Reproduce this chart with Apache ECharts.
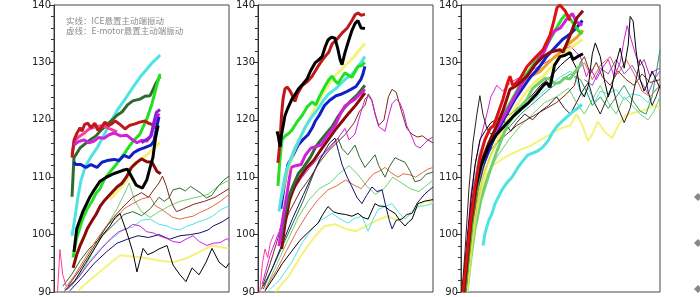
<!DOCTYPE html>
<html><head><meta charset="utf-8">
<script src="https://cdn.jsdelivr.net/npm/echarts@6/dist/echarts.min.js"></script>
<style>html,body{margin:0;padding:0;background:#fff}#c{width:700px;height:297px}</style>
</head><body><div id="c"></div>
<script>
// ---------- tick labels / legend ----------
var yTicks = [90, 100, 110, 120, 130, 140];
var legendLines = ['实线：ICE悬置主动端振动', '虚线：E-motor悬置主动端振动'];

// ---------- panel 1 : thick (ICE) ----------
var p1Cyan = [[10.3,99.8],[12,103],[13.7,106.6],[15.5,109.5],[17.7,111.7],[21,113.5],[24.6,115.1],[28,117],[32,119.4],[36,121.6],[40.6,123.6],[45,125.6],[49.1,127.4],[53,128.8],[56,129.9],[58.5,130.6],[60.6,131.3]];
var p1DkGreen = [[10.3,106.6],[11.4,113.4],[14.9,115.1],[20.6,116.5],[24,117.2],[26.3,118],[29,118.8],[33,119.9],[36,120.8],[39,121.4],[42,122.6],[45,123.3],[49.1,123.6],[52,124.1],[54.9,124.2],[57,125.5],[58,126.2],[60.6,127.6]];
var p1Green = [[10.9,96],[13,99.5],[16.6,102.9],[19,104.5],[21.7,105.8],[24,107.2],[26.3,108],[29,109.8],[32,110.9],[35,112],[37.7,113.1],[40,114],[41.7,114.8],[45,116.2],[49.1,117.5],[51,118.8],[53.1,120.2],[56,122.8],[58.9,126.2],[60.6,128]];
var p1Red = [[10.3,113.4],[11.5,116.5],[13,117.6],[14.9,118.6],[16,118],[17.5,119.2],[19.4,119.4],[21,118.6],[23.4,119.4],[25,118.2],[27,118.6],[29.1,119.6],[31,119],[33,119.3],[35,119.8],[37.7,119.2],[40.6,118.4],[43,119],[46.3,119.3],[49,119.6],[52,119.8],[54,119.4],[56,119.2],[58.3,118.5]];
var p1Magenta = [[11.4,115.6],[14,116.2],[17.1,116.5],[20,116],[22.9,116.3],[25.5,116.9],[28.6,116.8],[31.5,117.4],[34.3,117.7],[38,117.2],[41.7,117.3],[44.5,116.6],[47.4,116],[50,116.4],[53.1,116.3],[55,117],[57.1,119],[58.5,120],[60,121.1]];
var p1Purple = [[50,116],[53,116.6],[55.5,117.2],[57,119.5],[58.5,121.3],[60.6,121.8]];
var p1Pink = [[10.3,114],[11.5,116.2],[14,117],[17,117.6],[20,118.4],[24,118.8],[28,119],[32,118.4],[36,117.9]];
var p1Blue = [[11.4,112.6],[12.5,112.2],[15.4,112.2],[18.3,111.7],[21.1,112.2],[24.6,111.7],[27.4,112.6],[30.3,112.9],[34.3,113.1],[37.1,112.9],[40,113.8],[42.9,113.4],[45.7,114.3],[48.6,114.8],[51.4,115.1],[55.4,115.6],[57.1,116.3],[58.9,119],[60,120.5]];
var p1Maroon = [[10.9,94.2],[13,96.5],[14.9,98.1],[17,99.5],[19,101],[22.3,102.7],[24,103.5],[26.3,104.9],[29,106],[32,107],[36,108.3],[39,109],[41.7,110.2],[44,111.6],[47,112.5],[50,113.2],[53,112.7],[56,112.6],[58.9,111],[61,110.6]];
var p1Black = [[11.4,97],[13,101],[16.6,104.1],[20.6,106.6],[23,107.8],[26.3,109.3],[30,110],[34,110.6],[39.4,111.2],[42,111.4],[44.5,110],[47,108.6],[50.5,108.1],[53,109.5],[55,111.8],[56.5,113.4],[58,116.8],[59.5,119]];
var p1Yellow = [[32,106.1],[36,107.5],[41.7,109.5],[45.1,112.2],[49,113],[53.1,113.9],[58.9,115.6],[60.6,116]];

// ---------- panel 1 : thin (E-motor) ----------
var p1tDkGreen = [[5,91],[10,93],[15,95.5],[20,97.5],[25,99],[30,100.5],[35,102],[40,103.5],[45,104],[50,103.3],[55,104.5],[60,106.5],[63,105.8],[65.7,106.4],[68,107.8],[72,108.1],[75,107.6],[78,108.4],[81,107.8],[84,107.2],[87,106.4],[90,106.8],[94,108.5],[97,109.5],[100,110.2]];
var p1tSalmon = [[6,90.5],[12,93],[18,96],[24,99],[30,101.5],[36,103],[40,104.5],[45,105.4],[50,106.2],[54.9,106.6],[58,105],[61,104.5],[64.6,103.7],[68,103],[72,102.7],[76,103],[79.4,103.2],[83,103.8],[87.4,104.4],[91,105],[95,105.8],[100,107]];
var p1tCyan = [[8,90.5],[15,93],[22,96],[28,98],[34,99.5],[40,101],[45,101.3],[50,102.5],[54.9,102.7],[60,101.8],[64.6,101.5],[68,101],[72,100.8],[76,101.5],[79.4,101.8],[83,102.3],[87.4,102.7],[91,103.3],[95,104.3],[100,105]];
var p1tNavy = [[9,90.2],[16,92.5],[23,95],[30,97],[36,98.5],[42,99.2],[48,99.8],[54,99.5],[60,100],[66,99.2],[72,99.8],[78,100],[83.4,100.3],[88,100.8],[91,101.5],[96,102.2],[100,103]];
var p1tMagenta = [[7,90.3],[14,92.5],[20,95],[27,97.5],[33,99.5],[37,100.5],[41.7,101],[45,101.8],[49.1,101.5],[53,100.5],[56.6,100.3],[60,99.8],[64.6,99.3],[68,98.8],[72,98.6],[76,99.3],[79.4,99.8],[83,98.8],[87.4,98.1],[91,98.5],[94.9,98.6],[98.9,99.3],[100,99]];
var p1tBlack = [[6,90.2],[12,92],[18,95],[24,98],[28,100],[32,101.5],[35,103],[37.7,103.7],[41.7,100.3],[45.1,96.9],[47.4,93.5],[50.9,97.6],[53.5,96.5],[56.6,96.9],[60,97.5],[64.6,98.1],[68,94.7],[72,93],[75.4,91.8],[78.9,94.2],[82.9,93],[86.9,95.2],[90.3,97.6],[94.3,95.2],[98.3,94.2],[100,95]];
var p1tYellow = [[14,90.3],[22,92.5],[30,94.5],[37.7,96.4],[45,96.2],[53,95.9],[60,95.5],[68,95.2],[75,95.8],[79.4,96.4],[85,97.3],[90.3,98.1],[95,97.8],[100,97.6]];
var p1tBrown = [[8,91],[15,94],[22,97.5],[28,100.5],[34,103],[40,105],[45,106.5],[50,107.3],[54,106.5],[57,107.8],[60,109],[62,110.2],[64,108.6],[66,106.5],[68,105],[70,104],[74,104.5],[80,105.3],[86,105.8],[92,106.5],[100,108]];
var p1tLtGreen = [[10,91],[17,94],[24,98],[30,101.5],[36,104.5],[40,107],[43,109],[46,106],[50,104],[55,103],[60,104],[66,105],[72,105.8],[80,106.4],[88,107],[94,108.5],[100,109.5]];
var p1tPink = [[2,90],[3.4,97.4],[5,93],[7,91]];

// ---------- panel 2 : thick ----------
var p2Red = [[11.4,112.5],[12.5,116],[13.5,121],[14.3,123.6],[15.4,125.4],[16.6,125.7],[18,125.2],[19.4,124.4],[21.1,123.2],[22.5,124.5],[25.1,125.9],[28,126.6],[30.9,127.6],[34.3,129.3],[36.5,130.3],[38.3,131],[40.5,131.8],[42.3,133.2],[45,134],[48,135.1],[51,136],[53.7,137.3],[55.5,138.3],[57.1,138.6],[59,138.2],[61.1,138.4]];
var p2Black = [[10.9,118],[11.5,117.3],[12.6,115.3],[13.5,117.5],[15.4,120.7],[17,122],[19.4,123.6],[21,124.3],[22.9,125.3],[25,126],[28,127.1],[30,128.5],[32.6,129.9],[34.5,130.4],[36.6,131],[38.5,132.8],[40,133.9],[42,134.4],[44,134.2],[45.5,132.5],[46.9,130.5],[48,129.6],[49.7,131.7],[51.5,133.5],[53.7,135.6],[55.5,136.8],[57.1,137.3],[58.9,136],[61.1,135.9]];
var p2Yellow = [[13,106],[16,110],[20,114],[25,117.5],[30,120.5],[35,123.5],[40,126],[45,128],[50,129.5],[55,131],[58,132.2],[61.1,133.3]];
var p2Green = [[11.4,108.5],[12.5,113],[13.7,116.5],[15.5,117.2],[17.5,117.6],[19.4,118.2],[22,119.5],[25.1,120.7],[28,122.2],[30.9,123.1],[33,122.6],[35,124],[38.3,125.9],[40.5,127],[42.3,127.6],[44,126.8],[45.7,126.3],[47.5,127.2],[49.7,128.2],[51.5,127.8],[53.7,127.4],[55.5,128.4],[57.1,129.3],[59,129.4],[61.1,130]];
var p2Cyan = [[12,104],[14,108],[16,111],[18.5,113],[21,115],[24,116.8],[27,118.7],[30,120.2],[34.3,121.9],[37,123.2],[40,124.4],[44,125.3],[47,126.2],[50,127.1],[53,127.7],[55.5,128.6],[57.1,129.3],[59,130],[61.1,131]];
var p2Blue = [[13,104.5],[15,108.5],[17.1,112.2],[20,113.8],[22.9,115.6],[25.5,116.5],[28.6,117.4],[31,118.6],[32.6,119.7],[35,120.8],[38,122.5],[41,123.4],[44.6,124.2],[47,124.4],[50,124.8],[53.1,125.3],[56,125.8],[58.9,127.1],[60,128],[61.1,129.3]];
var p2Magenta = [[12,98],[14,102.5],[16.5,107],[18.9,111.7],[21.5,112],[24.6,112.2],[27,113.8],[30.3,115.1],[33,115.3],[36,115.6],[40,117.4],[44,119],[47,121],[49.7,122.4],[52.5,123],[55.4,123.6],[58,124.4],[61.1,125.3]];
var p2DkGreen = [[13,99],[15,103],[17.5,106.5],[20,108.5],[23,110.6],[26,111.7],[30,113.5],[33,115.3],[36,116.5],[39,117.6],[42.3,118.8],[46,120.7],[49.7,122.2],[53,123.3],[57.1,124.5],[61.1,126]];
var p2Maroon = [[13.5,97.5],[15.5,102],[18,106],[21,108.5],[24,110],[28,111.7],[32,113],[36,114.8],[40,116.5],[44,118.2],[48,119.7],[52,121.2],[56,122.6],[61.1,124.7]];

// ---------- panel 2 : thin ----------
var p2tMagenta = [[2.3,91.3],[6.9,96.4],[12,100.5],[18.3,106.6],[24,109.5],[29.7,111.7],[35,113.5],[41.1,115.1],[45,116.5],[49.7,118.5],[52,116.5],[55.4,117.5],[58,120.5],[61.1,123.6],[63,124.2],[65.1,123.3],[67,120.8],[69,118.8],[72.6,118],[74.5,120.5],[76.6,122.8],[79,123.6],[81,123],[83,121.5],[85,119],[88,117],[90,115.5],[92.6,115.1],[95,115.8],[97.1,116.5],[100,117]];
var p2tBrown = [[2,90.5],[7,95],[12,100],[18,104],[24,107.5],[30,110],[35,112.5],[40,114.5],[45,116],[50,117.5],[55,119.5],[58,121.5],[61.1,122.5],[63,124.5],[65,123.5],[67,121],[69,119],[72,120],[74.5,124],[76.6,125.3],[79,124.8],[82,121.5],[85,118.5],[88,117.5],[91,117],[94,117.2],[97,116.5],[100,116]];
var p2tDkGreen = [[3,90.5],[8,94],[14,98],[20,102],[26,106],[31,110],[35,113],[40,115],[43,116],[45.7,116.8],[48,115],[51.4,113.9],[53.5,114.8],[55.4,115.6],[58,113.5],[61.1,111.7],[64,112.8],[66.9,113.9],[69,112],[72.6,110],[75,111.8],[78.3,113.4],[81,113],[84,112.6],[87,111],[89.7,109.2],[93,109.5],[96,110.5],[100,110.9]];
var p2tSalmon = [[4,90.5],[10,93.5],[16,97],[22,100.5],[28,103.5],[34,106],[40,107.8],[45,108.5],[50,109.5],[55,108.6],[59,108],[62.9,109.5],[66,110.6],[69,111],[72.6,111.7],[76,110.8],[80,110],[83,110.6],[86.9,110.4],[90,110],[94,110.8],[97,111.4],[100,111.7]];
var p2tLtGreen = [[5,91],[11,95],[17,99],[23,103],[29,106],[35,108],[41,109],[46,110.5],[52,112],[57,110.5],[62,108.5],[67,107],[72,108],[77,110],[82,109],[87,108],[92,107.5],[96,108.5],[100,109.5]];
var p2tNavy = [[3,91],[8,94],[14,98.5],[20,103],[26,107],[32,111],[37,114],[41,116],[44,116.8],[46,114.5],[48,112.2],[51,110],[53.7,108.3],[56.5,106.5],[59.4,105.4],[62,106.8],[65.1,108.3],[68,107.5],[70.9,107.8],[73,105],[75,102.5],[76.6,101],[79,102.5],[82.3,102.7],[85,103.5],[88,103.7],[91,105.5],[95.4,107.1],[100,108.3]];
var p2tBlack = [[4,90.2],[9,92.5],[14,95],[19,97],[24,99],[29,100.5],[34.3,102],[37,103.5],[40,104.9],[43,104],[45.7,103.7],[50,103.5],[53.7,103.2],[57.1,103.7],[60,103],[62.9,102.7],[66.9,105.4],[69,105],[72.6,104.9],[75,104.3],[78.3,103.7],[81,102.5],[84,101.5],[86,102.2],[88,102.7],[91.4,105.4],[95,105.8],[100,106.1]];
var p2tCyan = [[6,90.2],[12,92],[19.4,95.2],[25,98.5],[30.9,101],[36,102.5],[42.3,103.7],[47,102.7],[51.4,102],[55,102.8],[59.4,103.2],[62.9,100.6],[65.5,102.5],[68.6,104.4],[72,104.8],[76.6,105.4],[80,104],[84,102.7],[88,103.8],[91.4,104.9],[95,105],[100,105.4]];
var p2tYellow = [[10,90],[18,93],[25,96.5],[32,99.5],[38,101.5],[44,101.8],[50,101],[56,100.6],[62,101.5],[68,102.5],[74,103.2],[80,102.5],[86,103.5],[92,105],[96,106],[100,105.5]];
var p2tPink = [[1,90],[2.5,95],[4,97.5],[5.5,96],[7,98.5],[9,100]];

// ---------- panel 3 : thick ----------
var p3Red = [[1,90],[2.5,94.7],[4.5,101.5],[7,108.3],[9.5,113.4],[12,116.5],[14.6,118.5],[16.5,119],[18.1,120.6],[21.1,123.6],[23,126],[24.6,127.6],[26.1,125.9],[29.6,127.1],[33.2,129.3],[37.2,130.8],[41.2,132.2],[44.7,134.7],[46.5,137],[48.2,139.5],[49.7,140],[52.3,139],[54.8,137.3]];
var p3Black = [[1,90],[2.5,95],[4.5,102],[7,108],[10,112],[14,115.5],[18,117.5],[22,119],[26,120.5],[30,121.8],[34,123],[38,124.5],[41.2,125.9],[43,126.5],[44.7,125.7],[47,129.5],[49.7,131],[52,131.2],[54.8,131.7],[56.3,130.5],[58.5,131],[61.3,131.5]];
var p3Maroon = [[1.5,90],[3,95],[5,102],[7.5,108],[10,112.5],[14,116],[18,119],[21,121.5],[24.6,125.3],[28,126],[33.2,127.6],[37,129.5],[41.2,131],[45,131.8],[49.7,132.2],[51.3,131.8],[54,134],[56.3,136.1],[58.3,137.8],[61.3,139]];
var p3Magenta = [[1.5,90],[3,96],[5,103],[8,109],[11,113],[15,116.5],[19,119],[23,121.5],[27,124],[31,126.5],[35,128.5],[39,130.5],[42,132],[45,134.5],[47,135.5],[50,136],[53,137.5],[56,138.5],[58,137],[61,136.5]];
var p3Blue = [[2,90],[3.5,96],[5.5,102.5],[8,108],[11,112],[15,115.5],[19,118.5],[23,121],[27,123.5],[31,125.5],[35,127.5],[39,129],[43,131],[47,132.5],[51,134],[55,135],[58,136],[61,137.3]];
var p3Lime = [[2,90],[4,97],[6,104],[9,110],[12,114],[16,117.5],[20,120],[24,122.5],[28,125],[32,127.5],[36,129.5],[40,131.5],[44,133.5],[48,136],[50.5,137.5],[53,138.5],[56,137],[59,135.5],[61,135]];
var p3LtGreen = [[3,90],[5,96],[7,101],[10,106],[14,110.5],[18,114.5],[23.1,119],[28,121.5],[33.2,123.6],[36,125.5],[39.7,126.5],[42,127.2],[44.7,127.1],[47,126.3],[49.7,126.5],[52,127.3],[54.8,127.1],[56.5,128],[58.3,128.8],[61.3,130]];
var p3Orange = [[2,90],[4,97],[6,103],[9,109],[12,113],[16,116.5],[20,119.5],[24,122],[28,124.5],[32,126.5],[36,127.8],[39.7,128.4],[44,130],[49.7,131.7],[54,133.2],[58.3,134.4],[61.3,135.6]];
var p3Yellow = [[3,90],[5,97],[7,102.5],[10,108],[13,112],[17,115.5],[21,118.5],[25,121],[29,123],[33,125],[37,126.5],[41,127.5],[45,129],[49,130.5],[53,132],[57,133],[61,134]];
var p3Cyan = [[11.1,98.1],[12.1,100.3],[14,102.5],[15.6,103.7],[17.1,105.4],[20.6,107.8],[23,109],[25.6,110],[28.6,111.7],[31,112.8],[33.7,113.9],[36,114.2],[38.7,114.6],[41,115.2],[43.7,116.3],[46,117.8],[48.5,119],[51,119.8],[53.5,120.6],[55.8,121.3],[58.5,122],[60.8,122.7]];

// ---------- panel 3 : thin ----------
var p3tBlackA = [[1,90],[3,98],[5,106],[7,112],[9.5,116.5],[12,118],[15,119.5],[20,120.5],[25,121],[30,122.5],[35,124],[40,126],[45,127.5],[50,129.5],[55,131],[58,129],[60,125],[62,124],[64,126],[66,131.5],[67.5,133.4],[70,131],[72,127],[74,124],[76,126],[78,130],[80,132.5],[82,129],[84,133],[85,138],[86.5,137.2],[88,132],[90,127],[92,125],[94,126.5],[96,128.5],[98,127],[100,125.5]];
var p3tBlackB = [[0.5,90],[2,97],[4,108],[6,116],[8,121],[9.5,124.2],[11,121],[13,118.5],[15,117.5],[18,118.5],[21,120],[25,118],[28,119.5],[32,121],[36,120],[40,121.5],[44,122.5],[48,124],[52,122],[55,121],[58,123],[61,125],[64,126.5],[67,123],[70,121],[73,123.5],[76,126],[79,122],[82,119.5],[85,122],[88,127],[90,130.5],[92,129],[94,125],[96,122.5],[98,124],[100,126]];
var p3tMagenta = [[1,90],[3,99],[5,107],[7.5,113],[10,117],[13,121],[15,124],[18,126],[21,125],[25,126.5],[30,127.5],[35,128.5],[40,129.5],[45,130.5],[50,132],[55,132.8],[60,131],[63,127.5],[65,129],[68,127],[71,129],[74,130.5],[77,127.5],[80,130],[82,134],[83.5,136.4],[85.5,134],[88,131],[90,129.5],[92,130.5],[95,127.5],[97,128.5],[100,129]];
var p3tViolet = [[62,127],[66,126],[70,129],[74,128],[78,130.5],[82,128],[86,129.5],[90,127],[94,124.5],[97,127],[100,128.5]];
var p3tCyan = [[2,90],[4,100],[6,108],[9,114],[12,117],[16,118.5],[20,119.5],[25,120],[30,121.5],[35,123],[40,124.5],[45,126],[50,127.5],[55,128.5],[58,127],[61,124],[64,125.5],[67,123],[70,125],[74,124.5],[78,125.3],[82,123.5],[86,124.5],[90,124.2],[94,123],[97,125],[100,125.9]];
var p3tGreen = [[3,90],[5,97],[8,105],[11,110],[15,114],[20,117],[25,119],[30,121],[35,122.5],[40,124],[45,125.5],[50,126.8],[55,128],[60,127],[63,125],[66,122.5],[70,124],[74,122],[78,124],[82,126],[86,123.5],[90,121.5],[93,121],[96,124],[98,128],[100,132.2]];
var p3tYellow = [[2,90],[5,99],[8,106],[12,110],[16,112],[20,113],[25,114],[30,114.8],[35,115.5],[40,116.5],[45,117.5],[50,118.5],[55,119],[58,121],[61,119],[63.8,116.3],[66,117.5],[68.8,119.7],[72,118],[75.9,116.8],[79,119],[82.4,120.7],[85,121],[88.9,121.4],[93,121.8],[97.5,122.5],[100,122]];
var p3tLtGreen = [[3,90],[6,100],[9,106],[13,110],[18,113.5],[24,116.5],[30,119],[36,121],[42,123],[48,124],[54,125.5],[58,123],[62,121],[66,123.5],[70,126],[74,123],[78,121],[82,124],[86,122.5],[90,121],[94,120],[97,121.5],[100,124]];
var p3tBrown = [[2,90],[4,98],[6,105],[9,111],[13,114],[18,116],[23,117.5],[28,119],[33,120],[38,121],[43,122],[48,123],[53,124.5],[57,126],[60,130],[62,131],[65,128],[68,130],[71,127.5],[75,126],[79,128.5],[83,127],[87,126],[91,128],[95,126.5],[100,127]];
var p3tSalmon = [[62,130],[66,127],[70,129.5],[75,131],[79,128],[83,130.5],[87,128],[91,125],[95,124],[100,126]];

// ---------- styling spec ----------
var C = {red:'#e01010', black:'#000000', maroon:'#8b0a0a', green:'#22e022', dkgreen:'#2f6b2f', cyan:'#4fe3e3',
  blue:'#1020c8', magenta:'#d020d8', purple:'#8a20d0', pink:'#ff3c9a', yellow:'#f2ee50', orange:'#f0a020',
  salmon:'#e06a4a', navy:'#10106a', ltgreen:'#70d070', brown:'#7a2a1a', violet:'#9050c0'};
var thin = 1, thick = 3;
var spec = [
  // panel 1 thin
  [0,p1tYellow,C.yellow,2],[0,p1tLtGreen,C.ltgreen,thin],[0,p1tDkGreen,C.dkgreen,thin],[0,p1tSalmon,C.salmon,thin],
  [0,p1tCyan,C.cyan,thin],[0,p1tNavy,C.navy,thin],[0,p1tMagenta,C.magenta,thin],[0,p1tBrown,C.brown,thin],
  [0,p1tBlack,C.black,thin],[0,p1tPink,C.pink,thin],
  // panel 1 thick
  [0,p1Yellow,C.yellow,thick],[0,p1Cyan,C.cyan,thick],[0,p1DkGreen,C.dkgreen,thick],[0,p1Green,C.green,thick],
  [0,p1Pink,C.pink,thick],[0,p1Red,'#c01818',thick],[0,p1Magenta,C.magenta,thick],[0,p1Purple,C.purple,thick],
  [0,p1Blue,C.blue,thick],[0,p1Maroon,C.maroon,thick],[0,p1Black,C.black,thick],
  // panel 2 thin
  [1,p2tYellow,C.yellow,2],[1,p2tLtGreen,C.ltgreen,thin],[1,p2tSalmon,C.salmon,thin],[1,p2tDkGreen,C.dkgreen,thin],
  [1,p2tCyan,C.cyan,thin],[1,p2tNavy,C.navy,thin],[1,p2tBlack,C.black,thin],[1,p2tBrown,C.brown,thin],
  [1,p2tMagenta,C.magenta,thin],[1,p2tPink,C.pink,thin],
  // panel 2 thick
  [1,p2Maroon,C.maroon,thick],[1,p2DkGreen,C.dkgreen,thick],[1,p2Magenta,C.magenta,thick],[1,p2Blue,C.blue,thick],
  [1,p2Yellow,C.yellow,thick],[1,p2Cyan,C.cyan,thick],[1,p2Green,C.green,thick],[1,p2Red,'#c01818',thick],[1,p2Black,C.black,thick],
  // panel 3 thin
  [2,p3tYellow,C.yellow,2],[2,p3tLtGreen,C.ltgreen,thin],[2,p3tGreen,'#20a060',thin],[2,p3tCyan,C.cyan,thin],
  [2,p3tBrown,C.brown,thin],[2,p3tSalmon,C.salmon,thin],[2,p3tViolet,C.violet,thin],[2,p3tMagenta,C.magenta,thin],
  [2,p3tBlackB,'#302020',thin],[2,p3tBlackA,C.black,thin],
  // panel 3 thick
  [2,p3Cyan,C.cyan,thick],[2,p3LtGreen,C.ltgreen,thick],[2,p3Yellow,C.yellow,thick],[2,p3Orange,C.orange,thick],
  [2,p3Blue,C.blue,thick],[2,p3Lime,C.green,thick],[2,p3Magenta,C.magenta,thick],[2,p3Maroon,C.maroon,thick],
  [2,p3Black,C.black,thick],[2,p3Red,C.red,thick]
];

var grids = [
  {left:54, top:4, width:175, height:293.5},
  {left:258, top:4, width:175, height:293.5},
  {left:461, top:4, width:199, height:293.5}
];

var chart = echarts.init(document.getElementById('c'), null, {renderer:'canvas'});
var option = {
  animation:false,
  backgroundColor:'#fff',
  grid: grids.map(function(g){ return Object.assign({show:true, borderColor:'#444', borderWidth:1, backgroundColor:'#fff'}, g); }),
  xAxis: grids.map(function(g,i){ return {type:'value', gridIndex:i, min:0, max:100, show:false}; }),
  yAxis: grids.map(function(g,i){ return {
    type:'value', gridIndex:i, min:yTicks[0], max:yTicks[yTicks.length-1], interval:10,
    axisLine:{show:true, lineStyle:{color:'#333', width:1}},
    axisTick:{show:true, inside:false, length:5, lineStyle:{color:'#333'}},
    minorTick:{show:true, splitNumber:5, length:3, lineStyle:{color:'#333'}},
    splitLine:{show:false},
    axisLabel:{color:'#222', fontSize:10, fontFamily:'DejaVu Sans', margin:3}
  }; }),
  series: spec.map(function(s){ return {
    type:'line', xAxisIndex:s[0], yAxisIndex:s[0], data:s[1], showSymbol:false, symbol:'none',
    lineStyle:{color:s[2], width:s[3], opacity: s[2]===C.yellow ? 0.75 : 1},
    itemStyle:{color:s[2]}, silent:true, clip:true
  }; }),
  graphic: [
    {type:'text', left:66, top:17, style:{text:legendLines[0], fill:'#8a8a8a', fontSize:8.5, fontFamily:'Noto Sans CJK SC'}},
    {type:'text', left:66, top:27, style:{text:legendLines[1], fill:'#8a8a8a', fontSize:8.5, fontFamily:'Noto Sans CJK SC'}},
    {type:'polygon', shape:{points:[[694,197],[698,193],[702,197],[698,201]]}, style:{fill:'#888'}},
    {type:'polygon', shape:{points:[[694,243],[698,239],[702,243],[698,247]]}, style:{fill:'#888'}},
    {type:'polygon', shape:{points:[[694,289],[698,285],[702,289],[698,293]]}, style:{fill:'#888'}}
  ]
};
chart.setOption(option);
</script></body></html>
